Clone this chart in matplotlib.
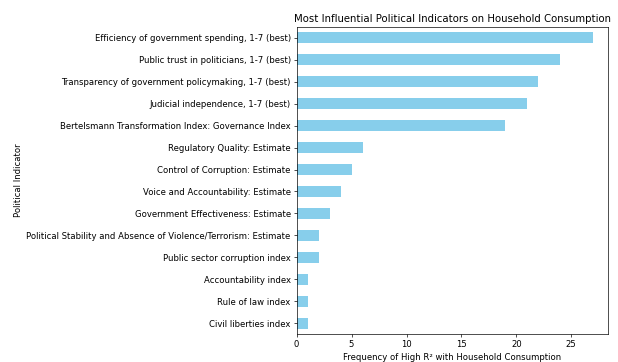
import matplotlib
matplotlib.use("Agg")
import matplotlib.pyplot as plt
import pandas as pd

indicators = [
    "Civil liberties index",
    "Rule of law index",
    "Accountability index",
    "Public sector corruption index",
    "Political Stability and Absence of Violence/Terrorism: Estimate",
    "Government Effectiveness: Estimate",
    "Voice and Accountability: Estimate",
    "Control of Corruption: Estimate",
    "Regulatory Quality: Estimate",
    "Bertelsmann Transformation Index: Governance Index",
    "Judicial independence, 1-7 (best)",
    "Transparency of government policymaking, 1-7 (best)",
    "Public trust in politicians, 1-7 (best)",
    "Efficiency of government spending, 1-7 (best)",
]
counts = [1, 1, 1, 2, 2, 3, 4, 5, 6, 19, 21, 22, 24, 27]

dpi = 61
fig = plt.figure(figsize=(618 / dpi, 362 / dpi), dpi=dpi)
ax = fig.add_axes([0.480, 0.0765, 0.504, 0.8497])
s = pd.Series(counts, index=indicators)
s.plot(kind="barh", color="skyblue", ax=ax)
ax.set_title("Most Influential Political Indicators on Household Consumption")
ax.set_xlabel("Frequency of High R² with Household Consumption")
ax.set_ylabel("Political Indicator")
fig.savefig("out.png", dpi=dpi)
